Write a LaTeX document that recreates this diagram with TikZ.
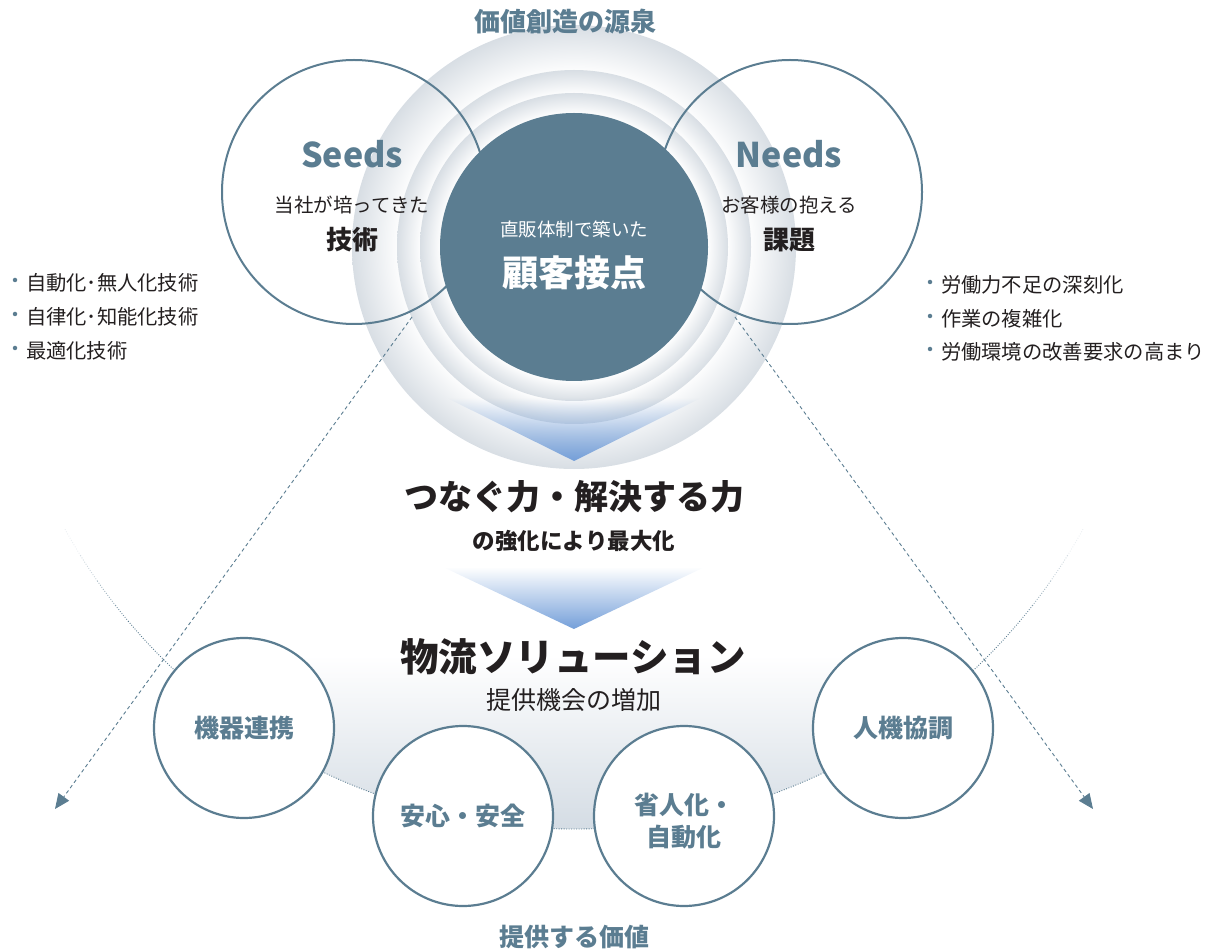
\documentclass[tikz,border=0pt]{standalone}
\usepackage{fontspec}
\setmainfont{Noto Sans CJK JP}
\usetikzlibrary{arrows.meta,fadings}
\definecolor{steel}{RGB}{91,125,145}
\definecolor{ink}{RGB}{35,31,32}
\definecolor{ringgray}{RGB}{216,222,228}
\definecolor{bandgray}{RGB}{212,220,228}
\definecolor{triblue}{RGB}{116,159,217}
\pgfdeclareradialshading{ringA}{\pgfpoint{0bp}{0bp}}{color(0bp)=(white); color(19.5bp)=(white); color(25bp)=(ringgray); color(50bp)=(ringgray)}
\pgfdeclareradialshading{ringB}{\pgfpoint{0bp}{0bp}}{color(0bp)=(white); color(21.5bp)=(white); color(25bp)=(ringgray); color(50bp)=(ringgray)}
\newcommand\fsz[2]{\fontsize{#1pt}{#2pt}\selectfont}
\begin{document}
\begin{tikzpicture}[x=1pt,y=1pt,
  every node/.style={inner sep=0pt,outer sep=0pt},
  bigcirc/.style={circle,draw=steel,line width=2pt,minimum size=264pt},
  valcirc/.style={circle,draw=steel,line width=2.2pt,fill=white,minimum size=180pt},
  dotarc/.style={steel,line width=0.9pt,dash pattern=on 0.9pt off 1.6pt},
  dasharrow/.style={steel,line width=0.9pt,dash pattern=on 3.5pt off 3pt,-{Triangle[length=15pt,width=13pt]}},
  bul/.style={circle,fill=steel,minimum size=4.5pt},
  bultext/.style={anchor=west,text=ink,font=\fsz{20.3}{20.3}},
  valtext/.style={text=steel,font=\fsz{25}{32}\bfseries,align=center}]
\useasboundingbox (0,0) rectangle (1205,-949);
\coordinate (C) at (574,-247);

% gray band under the value circles
\begin{scope}
  \clip (C) -- ++(-124.5:582) arc[start angle=-124.5,end angle=-55.5,radius=582] -- cycle;
  \shade[top color=white,bottom color=bandgray] (150,-655) rectangle (1000,-830);
\end{scope}

% big dotted arc
\draw[dotarc] (C) ++(-140:582) arc[start angle=-140,end angle=-40,radius=582];
\draw[dotarc,opacity=0.12] (C) ++(-151:582) arc[start angle=-151,end angle=-148,radius=582];
\draw[dotarc,opacity=0.3] (C) ++(-148:582) arc[start angle=-148,end angle=-145,radius=582];
\draw[dotarc,opacity=0.55] (C) ++(-145:582) arc[start angle=-145,end angle=-142,radius=582];
\draw[dotarc,opacity=0.8] (C) ++(-142:582) arc[start angle=-142,end angle=-140,radius=582];
\draw[dotarc,opacity=0.12] (C) ++(-29:582) arc[start angle=-29,end angle=-32,radius=582];
\draw[dotarc,opacity=0.3] (C) ++(-32:582) arc[start angle=-32,end angle=-35,radius=582];
\draw[dotarc,opacity=0.55] (C) ++(-35:582) arc[start angle=-35,end angle=-38,radius=582];
\draw[dotarc,opacity=0.8] (C) ++(-38:582) arc[start angle=-38,end angle=-40,radius=582];

% rings
\shade[shading=ringA] (C) circle[radius=222];
\shade[shading=ringB] (C) circle[radius=177];
\shade[shading=ringB] (C) circle[radius=154];

% first arrow shape
\fill[triblue,path fading=north] (447,-398) -- (701,-398) -- (574,-461) -- cycle;

% seeds / needs
\node[bigcirc] (seeds) at (354,-192) {};
\node[bigcirc] (needs) at (790,-192) {};

% core
\node[circle,fill=steel,minimum size=268pt] (core) at (C) {};

% dashed arrows
\coordinate (sL) at (412,-317);
\coordinate (eL) at (55,-809);
\coordinate (sR) at (735,-317);
\coordinate (eR) at (1093,-809);
\draw[dasharrow] (sL) -- (eL);
\draw[dasharrow] (sR) -- (eR);

% second arrow shape
\fill[triblue,path fading=north] (443,-567) -- (705,-567) -- (574,-629) -- cycle;

% value circles
\node[valcirc] (kiki) at (244,-728) {};
\node[valcirc] (anshin) at (463,-816) {};
\node[valcirc] (shojin) at (684,-816) {};
\node[valcirc] (jinki) at (903,-728) {};

% texts
\node[text=steel,font=\fsz{26}{26}\bfseries] (src) at (565,-22) {価値創造の源泉};
\node[text=steel,font=\fsz{34}{34}\bfseries] (seedsT) at (352,-154) {Seeds};
\node[text=ink,font=\fsz{19.5}{19.5}] (seeds1) at (352,-205) {当社が培ってきた};
\node[text=ink,font=\fsz{26}{26}\bfseries] (seeds2) at (352,-240) {技術};
\node[text=steel,font=\fsz{34}{34}\bfseries] (needsT) at (789,-154) {Needs};
\node[text=ink,font=\fsz{19.5}{19.5}] (needs1) at (789,-205) {お客様の抱える};
\node[text=ink,font=\fsz{26}{26}\bfseries] (needs2) at (789,-240) {課題};
\node[text=white,font=\fsz{18.5}{18.5}] (core1) at (574,-229) {直販体制で築いた};
\node[text=white,font=\fsz{36}{36}\bfseries] (core2) at (574,-273) {顧客接点};

\node[bul] (bl1) at (15,-280) {};
\node[bul] (bl2) at (15,-314) {};
\node[bul] (bl3) at (15,-348) {};
\node[bultext] (tl1) at (26,-283) {自動化･無人化技術};
\node[bultext] (tl2) at (26,-317) {自律化･知能化技術};
\node[bultext] (tl3) at (26,-351) {最適化技術};
\node[bul] (br1) at (930,-282) {};
\node[bul] (br2) at (930,-316) {};
\node[bul] (br3) at (930,-349) {};
\node[bultext] (tr1) at (941,-285) {労働力不足の深刻化};
\node[bultext] (tr2) at (941,-319) {作業の複雑化};
\node[bultext] (tr3) at (941,-352) {労働環境の改善要求の高まり};

\node[text=ink,font=\fsz{34}{34}\bfseries] (power) at (574,-497) {つなぐ力・解決する力};
\node[text=ink,font=\fsz{22.5}{22.5}\bfseries] (power2) at (574,-541) {の強化により最大化};
\node[text=ink,font=\fsz{38.5}{38.5}\bfseries] (sol) at (573,-657) {物流ソリューション};
\node[text=ink,font=\fsz{25}{25}] (sol2) at (574,-700) {提供機会の増加};

\node[valtext] at (kiki) {機器連携};
\node[valtext] at (anshin.center) {安心・安全};
\node[valtext] at (684,-821) {省人化・\\自動化};
\node[valtext] at (jinki) {人機協調};
\node[text=steel,font=\fsz{25}{25}\bfseries] (value) at (574,-937) {提供する価値};
\end{tikzpicture}
\end{document}
